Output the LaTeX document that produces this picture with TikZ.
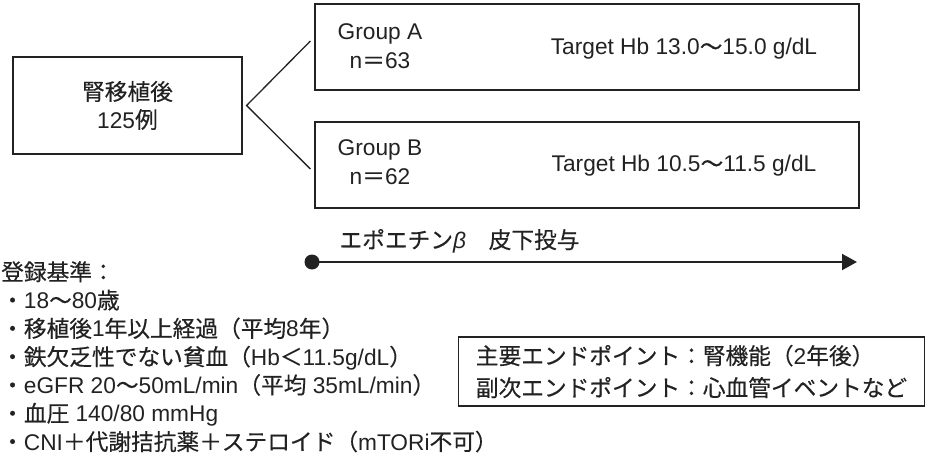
\documentclass[tikz,border=0pt]{standalone}
\usepackage{fontspec}
\setmainfont{Liberation Sans}
\newfontfamily\jafont[FakeBold=0.4]{Noto Sans CJK JP}
\newcommand{\ja}[1]{{\jafont #1}}
\usetikzlibrary{arrows.meta}
\definecolor{ink}{HTML}{222222}

\begin{document}
\begin{tikzpicture}[x=1pt, y=-1pt,
		every node/.style={text=ink, font=\fontsize{22.7}{28}\selectfont},
		box/.style={draw=ink, line width=1.2pt, inner sep=0pt},
		link/.style={draw=ink, line width=1.3pt}]
		\useasboundingbox (0,0) rectangle (927,460);

		\node[box, align=center, minimum width=229pt, minimum height=97pt] (kidney) at (127.5,105.5) {\ja{腎移植後}\\125\ja{例}};

		\node[box, minimum width=544pt, minimum height=86pt] (groupA) at (587,47) {};
		\node[box, minimum width=544pt, minimum height=86pt] (groupB) at (587,165) {};

		\node[align=center, font=\fontsize{22.7}{29}\selectfont] (nameA) at (380,46.5) {Group A\\n\ja{＝}63};
		\node[align=center, font=\fontsize{22.7}{29}\selectfont] (nameB) at (380,162) {Group B\\n\ja{＝}62};
		\node (targetA) at (684,49) {Target Hb 13.0\ja{～}15.0 g/dL};
		\node (targetB) at (684,166) {Target Hb 10.5\ja{～}11.5 g/dL};

		\coordinate (fork) at ([xshift=4pt]kidney.east);
		\draw[link] ([xshift=-4pt, yshift=6pt]groupA.west) -- (fork) -- ([xshift=-4pt, yshift=-4pt]groupB.west);

		\node[anchor=west] (drug) at (336,241) {\ja{エポエチン}{\itshape β}\ja{　皮下投与}};
		\node[circle, fill=ink, inner sep=0pt, minimum size=15pt] (start) at (312,262) {};
		\coordinate (finish) at (857,262);
		\draw[ink, line width=2pt, -{Triangle[length=15pt, width=16pt]}] (start.center) -- (finish);

		\node[anchor=north west, align=left, inner sep=0pt, font=\fontsize{22.7}{28.3}\selectfont] (criteria) at (1,261) {%
			\ja{登録基準：}\\
			\ja{・}18\ja{～}80\ja{歳}\\
			\ja{・移植後}1\ja{年以上経過（平均}8\ja{年）}\\
			\ja{・鉄欠乏性でない貧血（}Hb\ja{＜}11.5g/dL\ja{）}\\
			\ja{・}eGFR 20\ja{～}50mL/min\ja{（平均} 35mL/min\ja{）}\\
			\ja{・血圧} 140/80 mmHg\\
			\ja{・}CNI\ja{＋代謝拮抗薬＋ステロイド（}mTORi\ja{不可）}};

		\node[box, align=left, inner xsep=17pt, minimum height=69pt, font=\fontsize{22.7}{32}\selectfont] (endpoints) at (691.5,371.5) {%
			\ja{主要エンドポイント：腎機能（}2\ja{年後）}\\
			\ja{副次エンドポイント：心血管イベントなど}};
	\end{tikzpicture}
\end{document}
